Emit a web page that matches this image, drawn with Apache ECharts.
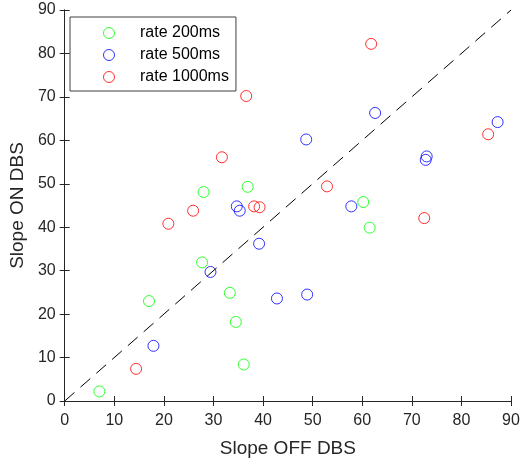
<!DOCTYPE html>
<html>
<head>
<meta charset="utf-8">
<script src="https://cdn.jsdelivr.net/npm/echarts@6/dist/echarts.min.js"></script>
<style>
  html, body { margin: 0; padding: 0; background: #fff; }
  #chart { width: 524px; height: 463px; }
</style>
</head>
<body>
<div id="chart"></div>
<script>
// slope OFF DBS / slope ON DBS pairs per stimulation rate
const rate200 = [
  [7.0, 2.2], [17.0, 23.0], [27.7, 31.9], [28.0, 48.1], [33.3, 24.9],
  [34.5, 18.2], [36.1, 8.4], [36.9, 49.3], [60.2, 45.8], [61.5, 39.9]
];
const rate500 = [
  [17.9, 12.7], [29.4, 29.7], [39.2, 36.2], [34.7, 44.8], [35.3, 43.8],
  [42.8, 23.6], [48.9, 24.5], [48.7, 60.2], [62.6, 66.3], [57.8, 44.8],
  [73.0, 56.3], [72.8, 55.5], [87.3, 64.2]
];
const rate1000 = [
  [14.4, 7.4], [20.9, 40.8], [25.9, 43.8], [31.7, 56.1], [36.6, 70.2],
  [38.2, 44.8], [39.3, 44.6], [52.9, 49.4], [61.8, 82.2], [72.5, 42.1],
  [85.4, 61.4]
];
const unityLine = [[0, 0], [90, 90]];
const seriesNames = ['rate 200ms', 'rate 500ms', 'rate 1000ms'];
const seriesColors = ['#00ff00', '#0000ff', '#ff0000'];

const font = "'Liberation Sans', Arial, sans-serif";
const axisColor = '#262626';

const chart = echarts.init(document.getElementById('chart'));

// shared axis settings
const baseAxis = {
  type: 'value',
  min: 0,
  max: 90,
  interval: 10,
  axisLine: { show: true, lineStyle: { color: axisColor, width: 1 } },
  axisTick: { show: true, inside: true, length: 5, lineStyle: { color: axisColor } },
  splitLine: { show: false },
  axisLabel: { color: axisColor, fontSize: 16, fontFamily: font },
  nameTextStyle: { color: axisColor, fontSize: 19, fontFamily: font }
};

const scatter = (name, data, color) => ({
  name,
  type: 'scatter',
  data,
  symbol: 'circle',
  symbolSize: 11,
  itemStyle: { color: 'rgba(0,0,0,0)', borderColor: color, borderWidth: 1 },
  emphasis: { disabled: true },
  z: 3
});

const option = {
  animation: false,
  backgroundColor: '#fff',
  grid: { left: 62.7, right: 13, top: 10, bottom: 61.7 },
  xAxis: [
    Object.assign({}, baseAxis, {
      position: 'bottom',
      name: 'Slope OFF DBS',
      nameLocation: 'middle',
      nameGap: 38,
      axisLabel: Object.assign({}, baseAxis.axisLabel, { margin: 12 })
    }),
    Object.assign({}, baseAxis, { position: 'top', axisLabel: { show: false } })
  ],
  yAxis: [
    Object.assign({}, baseAxis, {
      position: 'left',
      name: 'Slope ON DBS',
      nameLocation: 'middle',
      nameGap: 34,
      axisLabel: Object.assign({}, baseAxis.axisLabel, { margin: 9 })
    }),
    Object.assign({}, baseAxis, { position: 'right', axisLabel: { show: false } })
  ],
  legend: {
    left: 70,
    top: 17,
    orient: 'vertical',
    padding: [8, 7, 6, 33],
    itemWidth: 52,
    itemHeight: 11,
    itemGap: 6,
    itemStyle: { borderWidth: 1 },
    borderColor: '#404040',
    borderWidth: 1,
    borderRadius: 0,
    backgroundColor: '#fff',
    textStyle: { color: '#000', fontSize: 16, fontFamily: font, lineHeight: 16 },
    data: seriesNames
  },
  series: [
    {
      type: 'line',
      data: unityLine,
      symbol: 'none',
      silent: true,
      lineStyle: { color: '#000', width: 1, type: [13, 8] },
      z: 2
    },
    scatter(seriesNames[0], rate200, seriesColors[0]),
    scatter(seriesNames[1], rate500, seriesColors[1]),
    scatter(seriesNames[2], rate1000, seriesColors[2])
  ]
};

chart.setOption(option);
</script>
</body>
</html>
